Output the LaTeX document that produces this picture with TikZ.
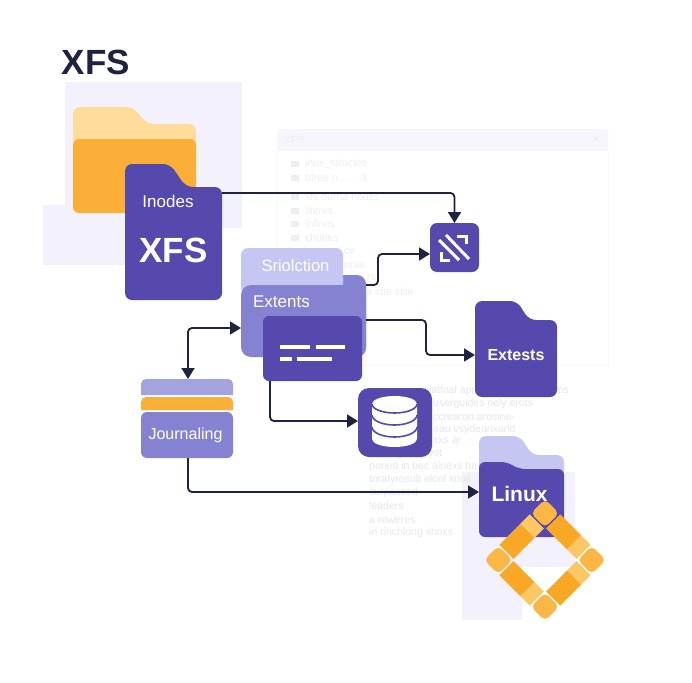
\documentclass[tikz,border=0pt]{standalone}
\usepackage{fontspec}
\setmainfont{Liberation Sans}
\usetikzlibrary{arrows.meta,calc,positioning}
\definecolor{inkdark}{HTML}{1E2340}
\definecolor{purpledark}{HTML}{5549AE}
\definecolor{purplemid}{HTML}{8682D2}
\definecolor{purplelight}{HTML}{A5A2E0}
\definecolor{purplepale}{HTML}{C6C6F2}
\definecolor{panelpale}{HTML}{F3F2FC}
\definecolor{orangemain}{HTML}{FBAE38}
\definecolor{orangepale}{HTML}{FFDC99}
\definecolor{orangebar}{HTML}{F9A825}
\definecolor{orangelite}{HTML}{FDC766}
\definecolor{orangecap}{HTML}{F9B845}
\definecolor{faintink}{HTML}{E6E6EE}
\definecolor{fainterink}{HTML}{EEEEF4}
\tikzset{
  conn/.style={draw=inkdark,line width=1.8pt,rounded corners=4pt,-{Triangle[length=11pt,width=13pt]}},
  twoconn/.style={conn,{Triangle[length=11pt,width=13pt]}-{Triangle[length=11pt,width=13pt]}},
  box/.style={inner sep=0pt,outer sep=0pt,rounded corners=#1},
  box/.default=7pt,
  lbl/.style={text=white,inner sep=0pt,outer sep=0pt,font=\fontsize{#1}{#1}\selectfont},
  faint/.style={text=faintink,inner sep=0pt,anchor=west,font=\fontsize{10.5}{10.5}\selectfont},
  fainter/.style={faint,text=fainterink},
  iconline/.style={draw=white,line width=3pt},
  dashline/.style={draw=white,line width=3.2pt}
}
\begin{document}
\begin{tikzpicture}[x=1pt,y=-1pt]
\useasboundingbox (0,0) rectangle (692,682);
\fill[white] (0,0) rectangle (692,682);
\fill[panelpale] (65,82) rectangle (242,228);
\fill[panelpale] (43,205) rectangle (125,265);
\fill[panelpale] (462,472) -- (575,472) -- (575,567) -- (522,567) -- (522,620) -- (462,620) -- cycle;
\draw[draw=panelpale!50,line width=.8pt] (277,151) -- (277,365) -- (608,365) -- (608,151);
\fill[panelpale!70,rounded corners=2pt] (277,129) rectangle (608,151);
\node[fainter] (wintitle) at (284,140) {XFS};
\node[fainter,font=\fontsize{13}{13}\selectfont] (winclose) at (592,140) {×};
\foreach \y/\x/\t in {164/305/inux\_structes,178/305/btree n . . . 3,197/305/xfs  ourna  nodes,211/305/libtres,224/305/inlines,238/305/chunks,252/344/ce,265/344/ents,278/367/rs}
  \node[fainter] at (\x,\y) {\t};
\foreach \y in {164,178,197,211,224,238}
  \fill[fainterink] (291,\y-3) rectangle (299,\y+3);
\node[fainter] (xtte) at (366,292) {a xtte stile};
\foreach \y/\x/\t in {391/423/platfoal apperations ans toolms,404/433/userguides nely erots,417/433/ccrearon arosine-,430/433/eau vsydeanxand,441/433/xxs ar,454/369/leading rosidyst,467/369/peried in bec ainexs ha,480/369/toratyrosult elool xdos,493/369/surpassed,506/369/leaders,520/369/a rowlrres,533/369/in rinchlong shoxs}
  \node[faint] at (\x,\y) {\t};
\node[text=inkdark,inner sep=0pt,font=\bfseries\fontsize{35}{35}\selectfont] (title) at (96,62) {XFS};
\fill[orangepale,rounded corners=7pt] (73,150) -- (73,107) -- (133,107) -- (147,124) -- (196,124) -- (196,150) -- cycle;
\fill[orangemain,rounded corners=6pt] (73,139) rectangle (196,213);
\fill[purpledark,rounded corners=7pt] (125,300) -- (125,164) -- (170,164) -- (186,187) -- (222,187) -- (222,300) -- cycle;
\node[lbl=17] (inodes) at (168,201) {Inodes};
\node[lbl=34,font=\bfseries\fontsize{35}{35}\selectfont] (xfs) at (173.5,250) {XFS};
\coordinate (inodesout) at (222,193);
\node[box,fill=purpledark,minimum width=49pt,minimum height=49pt] (iconbox) at (454.5,247.5) {};
\draw[iconline] (439,240) -- (459,260);
\draw[iconline] (446,235) -- (469,259);
\draw[iconline] (457,236) -- (466,236) -- (466,244);
\draw[iconline] (441,252) -- (441,260) -- (450,260);
\fill[purplemid,rounded corners=9pt] (300,357) -- (300,275) -- (366,275) -- (366,357) -- cycle;
\fill[purplepale] (241,285) [rounded corners=7pt] -- (241,248) -- (343,248) [sharp corners] -- (343,290) -- (241,290) -- cycle;
\node[lbl=16.5] (sriolction) at (295.5,266) {Sriolction};
\fill[purplemid,rounded corners=10pt] (241,285) rectangle (366,357);
\node[lbl=17] (extents) at (281.5,302) {Extents};
\coordinate (extentsin) at (241,328);
\coordinate (extentsup) at (366,285);
\coordinate (extentsout) at (366,320);
\node[box=6pt,fill=purpledark,minimum width=99pt,minimum height=65pt] (dashbox) at (312.5,348.5) {};
\draw[dashline] (280,347) -- (310,347);
\draw[dashline] (316,347) -- (345,347);
\draw[dashline] (280,359) -- (292,359);
\draw[dashline] (297,359) -- (332,359);
\coordinate (dashout) at (270,381);
\fill[purpledark,rounded corners=7pt] (475,397) -- (475,301) -- (517,301) -- (529,320) -- (557,320) -- (557,397) -- cycle;
\node[lbl=16,font=\bfseries\fontsize{16}{16}\selectfont,minimum width=82pt] (extests) at (516,355) {Extests};
\fill[purplelight] (141,395) [rounded corners=5pt] -- (141,379) -- (233,379) [sharp corners] -- (233,395) -- cycle;
\fill[orangemain] (141,410) [rounded corners=5pt] -- (141,397) -- (233,397) [sharp corners] -- (233,410) -- cycle;
\node[box=6pt,fill=purplemid,minimum width=92pt,minimum height=46pt] (jbox) at (187,435) {};
\node[lbl=16] (journaling) at (185.5,435) {Journaling};
\coordinate (jtop) at (188,379);
\coordinate (jout) at (188,458);
\node[box=11pt,fill=purpledark,minimum width=74pt,minimum height=69pt] (dbbox) at (395,422.5) {};
\fill[white] (372,404) arc[start angle=180,end angle=360,x radius=22.5,y radius=8] -- (417,439) arc[start angle=0,end angle=180,x radius=22.5,y radius=8] -- cycle;
\foreach \y/\r in {404/9,415/10,427/10}
  \draw[purpledark,line width=1.6pt] (372,\y) arc[start angle=180,end angle=0,x radius=22.5,y radius=\r];
\fill[purplepale,rounded corners=7pt] (479,480) -- (479,436) -- (520,436) -- (532,455) -- (564,455) -- (564,480) -- cycle;
\fill[purpledark,rounded corners=6pt] (479,537) -- (479,462) -- (507,462) -- (519,469) -- (564,469) -- (564,537) -- cycle;
\node[lbl=21,font=\bfseries\fontsize{21}{21}\selectfont] (linux) at (519.5,494) {Linux};
\coordinate (linuxin) at (479,492);
\begin{scope}[shift={(545,560)},rotate=45]
\foreach \a/\b/\c/\d in {-43/-43/-23/-23,23/-43/43/-23,23/23/43/43,-43/23/-23/43}
  \fill[orangecap,rounded corners=5pt] (\a,\b) rectangle (\c,\d);
\fill[orangebar] (-21.5,-43) rectangle (8,-23);
\fill[orangelite] (8,-43) rectangle (21.5,-23);
\fill[orangebar] (23,-21.5) rectangle (43,8);
\fill[orangelite] (23,8) rectangle (43,21.5);
\fill[orangelite] (21.5,23) rectangle (8,43);
\fill[orangebar] (8,23) rectangle (-21.5,43);
\fill[orangelite] (-43,21.5) rectangle (-23,8);
\fill[orangebar] (-43,8) rectangle (-23,-21.5);
\end{scope}
\draw[conn] (inodesout) -| (iconbox.north);
\draw[conn] (extentsup) -- (378,285) -- (378,254) -- (iconbox.west |- 0,254);
\draw[conn] (extentsout) -- (426,320) -- (426,355) -- (extests.west);
\draw[twoconn] (jtop) -- (188,328) -- (extentsin);
\draw[conn] (dashout) -- (270,421) -- (dbbox.west |- 0,421);
\draw[conn] (jout) -- (188,492) -- (linuxin);
\end{tikzpicture}
\end{document}
